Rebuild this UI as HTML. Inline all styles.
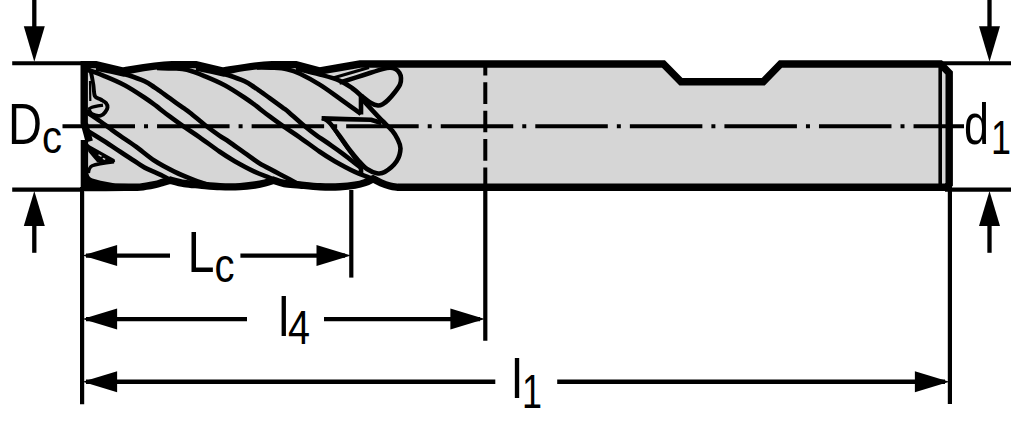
<!DOCTYPE html>
<html><head><meta charset="utf-8"><title>End mill</title>
<style>
html,body{margin:0;padding:0;background:#fff;}
body{width:1023px;height:426px;overflow:hidden;font-family:"Liberation Sans",sans-serif;}
svg{display:block;}
text{font-family:"Liberation Sans",sans-serif;fill:#000;}
</style></head><body>
<svg width="1023" height="426" viewBox="0 0 1023 426">
<rect width="1023" height="426" fill="#fff"/>
<defs><clipPath id="body"><path d="M84.5,64.6 L96,64.6 L123,71.2 C135,69.2 154,65 172,64.6 L196,64.6 L223,71.2 C235,69.2 254,65 272,64.6 L296,64.6 L320,71 C333,68.8 347,66.2 360,64 L663.4,64 L681,81.8 L763.2,81.8 L780.6,64 L940.4,64 L949.2,73 L949.2,184.3 L946.2,187.3 L398,187.3 C396.7,187.1 392.8,186.8 390.0,186.0 C387.2,185.2 383.8,184.0 381.0,182.8 C378.2,181.6 374.3,179.5 373.0,178.8 C371.7,179.4 368.0,181.5 365.0,182.6 C362.0,183.7 359.2,184.5 355.0,185.2 C350.8,185.9 345.8,186.5 340.0,186.8 C334.2,187.1 326.7,187.1 320.0,186.8 C313.3,186.5 305.9,185.6 300.0,185.0 C294.1,184.4 288.7,184.3 284.3,183.5 C279.9,182.7 275.3,180.8 273.5,180.2 C272.1,180.7 268.1,182.2 265.0,183.0 C261.9,183.8 259.2,184.4 255.0,185.0 C250.8,185.6 245.8,186.3 240.0,186.6 C234.2,186.9 226.7,186.9 220.0,186.6 C213.3,186.3 205.9,185.5 200.0,185.0 C194.1,184.5 189.2,184.3 184.3,183.5 C179.4,182.7 172.7,180.8 170.4,180.2 C169.1,180.6 165.3,181.7 162.7,182.4 C160.1,183.2 158.6,183.9 154.8,184.7 C151.0,185.5 145.0,186.7 140.0,187.1 C135.0,187.5 134.2,187.2 125.0,187.3 C115.8,187.4 91.2,187.5 84.5,187.5 L84.5,64.6 Z"/></clipPath></defs>
<path d="M84.5,64.6 L96,64.6 L123,71.2 C135,69.2 154,65 172,64.6 L196,64.6 L223,71.2 C235,69.2 254,65 272,64.6 L296,64.6 L320,71 C333,68.8 347,66.2 360,64 L663.4,64 L681,81.8 L763.2,81.8 L780.6,64 L940.4,64 L949.2,73 L949.2,184.3 L946.2,187.3 L398,187.3 C396.7,187.1 392.8,186.8 390.0,186.0 C387.2,185.2 383.8,184.0 381.0,182.8 C378.2,181.6 374.3,179.5 373.0,178.8 C371.7,179.4 368.0,181.5 365.0,182.6 C362.0,183.7 359.2,184.5 355.0,185.2 C350.8,185.9 345.8,186.5 340.0,186.8 C334.2,187.1 326.7,187.1 320.0,186.8 C313.3,186.5 305.9,185.6 300.0,185.0 C294.1,184.4 288.7,184.3 284.3,183.5 C279.9,182.7 275.3,180.8 273.5,180.2 C272.1,180.7 268.1,182.2 265.0,183.0 C261.9,183.8 259.2,184.4 255.0,185.0 C250.8,185.6 245.8,186.3 240.0,186.6 C234.2,186.9 226.7,186.9 220.0,186.6 C213.3,186.3 205.9,185.5 200.0,185.0 C194.1,184.5 189.2,184.3 184.3,183.5 C179.4,182.7 172.7,180.8 170.4,180.2 C169.1,180.6 165.3,181.7 162.7,182.4 C160.1,183.2 158.6,183.9 154.8,184.7 C151.0,185.5 145.0,186.7 140.0,187.1 C135.0,187.5 134.2,187.2 125.0,187.3 C115.8,187.4 91.2,187.5 84.5,187.5 L84.5,64.6 Z" fill="#d6d6d6"/>
<g clip-path="url(#body)" fill="none" stroke="#000" stroke-width="4.6" stroke-linejoin="round">
<path d="M84.0,128.5 C84.8,129.0 85.2,129.3 88.8,131.6 C92.4,133.8 100.3,138.6 105.6,142.0 C110.8,145.4 115.2,148.5 120.3,151.8 C125.4,155.1 131.9,159.4 136.0,162.0 C140.1,164.6 140.3,165.3 144.7,167.6 C149.1,169.9 158.3,173.7 162.5,175.8 C166.7,177.9 168.8,179.3 170.0,180.0"/>
<path d="M84.0,110.5 C84.8,111.0 86.0,111.8 88.8,113.6 C91.6,115.4 97.1,119.0 100.6,121.5 C104.1,124.0 106.7,126.1 110.0,128.5 C113.3,130.9 116.0,132.9 120.3,135.9 C124.6,138.9 130.3,142.5 136.0,146.7 C141.7,150.8 148.2,156.7 154.6,160.8 C161.0,165.0 167.6,168.3 174.3,171.6 C181.0,174.9 189.1,178.1 195.0,180.4 C200.9,182.7 207.5,184.7 210.0,185.5"/>
<path d="M57.0,68.0 C59.7,68.1 68.0,68.1 73.0,68.4 C78.0,68.7 81.7,68.5 87.0,69.8 C92.3,71.1 98.7,73.7 105.0,76.3 C111.3,78.9 118.1,81.7 124.7,85.2 C131.3,88.7 139.2,94.0 144.4,97.5 C149.7,101.0 153.1,103.6 156.2,105.9 C159.3,108.2 160.6,109.5 163.2,111.5 C165.8,113.5 168.3,115.3 171.7,117.8 C175.1,120.3 178.8,123.0 183.5,126.3 C188.2,129.6 193.7,133.1 199.7,137.3 C205.7,141.5 213.6,147.5 219.4,151.5 C225.2,155.5 228.9,157.8 234.7,161.2 C240.5,164.5 248.7,168.9 254.4,171.6 C260.1,174.3 265.9,176.1 269.2,177.5 C272.5,178.9 273.2,179.6 274.0,180.0"/>
<path d="M96.0,68.4 C98.5,68.9 106.5,70.6 111.0,71.6 C115.5,72.6 120.2,73.6 123.0,74.2 C125.8,74.8 124.1,73.8 127.7,75.0 C131.3,76.2 140.0,79.2 144.4,81.2 C148.8,83.2 151.5,85.4 154.3,87.2 C157.1,89.0 158.4,90.0 161.0,91.8 C163.6,93.6 166.0,95.6 169.7,98.2 C173.3,100.8 179.5,105.2 182.9,107.6 C186.3,110.0 186.1,109.6 190.0,112.7 C193.9,115.8 201.7,122.5 206.6,126.3 C211.5,130.1 215.6,133.0 219.4,135.6 C223.2,138.2 225.1,139.1 229.3,142.0 C233.5,144.9 239.6,149.3 244.6,152.8 C249.6,156.3 254.2,160.1 259.3,163.2 C264.4,166.3 269.9,168.9 275.0,171.6 C280.1,174.3 285.8,177.3 290.0,179.5 C294.2,181.7 298.3,184.1 300.0,185.0"/>
<path d="M157.0,68.0 C159.7,68.1 168.0,68.1 173.0,68.4 C178.0,68.7 181.7,68.5 187.0,69.8 C192.3,71.1 198.7,73.7 205.0,76.3 C211.3,78.9 218.1,81.7 224.7,85.2 C231.3,88.7 239.2,94.0 244.4,97.5 C249.7,101.0 253.1,103.6 256.2,105.9 C259.3,108.2 260.6,109.5 263.2,111.5 C265.8,113.5 268.3,115.3 271.7,117.8 C275.1,120.3 278.8,123.0 283.5,126.3 C288.2,129.6 293.7,133.1 299.7,137.3 C305.7,141.5 313.6,147.5 319.4,151.5 C325.2,155.5 328.9,157.8 334.7,161.2 C340.5,164.5 348.6,168.9 354.4,171.6 C360.1,174.3 365.9,176.1 369.2,177.5 C372.5,178.9 373.2,179.6 374.0,180.0"/>
<path d="M196.0,68.4 C198.5,68.9 206.5,70.6 211.0,71.6 C215.5,72.6 220.2,73.6 223.0,74.2 C225.8,74.8 224.1,73.8 227.7,75.0 C231.3,76.2 240.0,79.2 244.4,81.2 C248.8,83.2 251.5,85.4 254.3,87.2 C257.1,89.0 258.4,90.0 261.0,91.8 C263.6,93.6 266.1,95.6 269.7,98.2 C273.3,100.8 279.4,105.2 282.7,107.6 C286.0,110.0 285.7,109.6 289.3,112.7 C293.0,115.8 300.2,122.5 304.8,126.3 C309.3,130.1 313.2,133.0 316.8,135.6 C320.4,138.2 322.2,139.1 326.3,142.0 C330.4,144.9 337.4,149.7 341.6,152.8 C345.8,155.9 348.4,158.1 351.5,160.5 C354.6,162.9 359.0,166.3 360.5,167.5"/>
<path d="M257.0,67.4 C259.7,67.5 268.0,67.4 273.0,67.7 C278.0,68.0 282.5,68.2 287.0,69.2 C291.5,70.2 294.6,71.1 300.0,73.7 C305.4,76.3 313.1,80.5 319.7,84.6 C326.3,88.7 332.5,93.4 339.4,98.3 C346.3,103.2 357.4,111.4 361.0,114.0"/>
<path d="M296.0,68.4 C300.0,69.4 312.8,72.5 320.0,74.5 C327.2,76.5 334.1,78.3 339.4,80.6 C344.7,82.8 348.4,85.5 352.0,88.0 C355.6,90.5 359.5,94.2 361.0,95.5"/>
<path d="M361,94 L361,114.5"/>
<path d="M361,163 L361,174"/>
<path d="M339.4,82.6 C340.2,82.4 340.1,82.4 344.0,81.2 C347.9,80.0 356.6,77.2 363.0,75.2 C369.4,73.2 377.9,70.4 382.4,69.1 C386.9,67.8 387.8,67.6 390.0,67.6 C392.2,67.6 393.9,68.1 395.5,69.0 C397.1,69.9 398.6,71.5 399.5,73.0 C400.4,74.5 400.9,76.1 401.0,78.0 C401.1,79.9 401.0,82.2 400.0,84.5 C399.0,86.8 397.0,89.4 395.0,92.0 C393.0,94.6 390.0,98.0 388.0,100.0 C386.0,102.0 384.7,103.1 383.0,104.0 C381.3,104.9 380.0,105.7 378.0,105.5 C376.0,105.3 373.8,104.7 371.0,103.0 C368.2,101.3 362.7,96.8 361.0,95.5"/>
<path d="M333,77.9 L369,67.6" stroke-width="3.1"/>
<path d="M361.5,97.0 C361.8,97.6 361.6,98.2 363.5,100.5 C365.4,102.8 369.6,107.4 372.8,110.8 C376.0,114.2 379.2,117.7 382.5,121.0 C385.8,124.3 389.8,127.8 392.3,130.8 C394.8,133.8 396.1,136.1 397.5,139.0 C398.9,141.9 400.6,144.7 400.5,148.4 C400.4,152.1 399.2,157.3 396.6,161.2 C394.0,165.1 388.0,170.0 384.7,172.0 C381.4,174.0 379.8,173.7 376.8,173.2 C373.9,172.7 370.0,171.0 367.0,169.0 C364.0,167.0 361.9,164.5 359.0,161.2 C356.1,157.9 352.6,153.7 349.3,149.4 C346.0,145.1 342.7,140.0 339.4,135.6 C336.1,131.2 332.4,125.8 329.6,122.8 C326.8,119.8 323.9,118.7 322.7,117.9"/>
<path d="M321.6,118.4 L345,119.1 L371,119.8 L381.5,123"/>
<path d="M330,122.6 C340.5,139 351,154 361.5,167" stroke-width="3.4"/>
<path d="M88.0,69.0 C88.5,69.5 89.9,69.4 90.8,72.0 C91.7,74.6 92.6,80.7 93.3,84.7 C94.0,88.7 93.7,93.7 94.9,96.2 C96.1,98.7 98.9,98.4 100.7,99.5 C102.5,100.6 104.9,101.7 106.0,103.0 C107.1,104.3 107.6,106.0 107.5,107.5 C107.4,109.0 106.4,110.6 105.3,112.0 C104.2,113.4 102.8,115.3 100.7,115.7 C98.6,116.1 94.5,115.4 92.4,114.3 C90.3,113.2 89.0,110.1 88.3,109.3" stroke-width="3.9"/>
<path d="M90,81 L90.3,101" stroke-width="2.2"/>
<path d="M88.3,109.3 C88.9,109.0 90.4,107.8 92.0,107.2 C93.6,106.6 96.2,106.1 98.0,105.8 C99.8,105.5 102.2,105.3 103.0,105.2" stroke-width="3.2"/>
<path d="M87,143 L90,145.6 L114.6,159.2 L115.2,161.6 L113.5,163 L97.2,162.3 L88.3,151.8 Z" fill="#000" stroke="none"/>
<path d="M98.5,154.8 L101.5,156.4 M102.8,158.4 L105.2,159.4" stroke="#d6d6d6" stroke-width="1.3"/>
<path d="M114,161.8 C104,163 96.5,164 92.2,165.8 C89.6,167.2 88.8,169.5 88.4,173" stroke-width="3.4"/>
</g>
<path d="M62.5,126.3 L964,126.3" fill="none" stroke="#000" stroke-width="3.9" stroke-dasharray="72.5 9.03 4 9.03"/>
<path d="M84.5,64.6 L96,64.6 L123,71.2 C135,69.2 154,65 172,64.6 L196,64.6 L223,71.2 C235,69.2 254,65 272,64.6 L296,64.6 L320,71 C333,68.8 347,66.2 360,64 L663.4,64 L681,81.8 L763.2,81.8 L780.6,64 L940.4,64 L949.2,73 L949.2,184.3 L946.2,187.3 L398,187.3 C396.7,187.1 392.8,186.8 390.0,186.0 C387.2,185.2 383.8,184.0 381.0,182.8 C378.2,181.6 374.3,179.5 373.0,178.8 C371.7,179.4 368.0,181.5 365.0,182.6 C362.0,183.7 359.2,184.5 355.0,185.2 C350.8,185.9 345.8,186.5 340.0,186.8 C334.2,187.1 326.7,187.1 320.0,186.8 C313.3,186.5 305.9,185.6 300.0,185.0 C294.1,184.4 288.7,184.3 284.3,183.5 C279.9,182.7 275.3,180.8 273.5,180.2 C272.1,180.7 268.1,182.2 265.0,183.0 C261.9,183.8 259.2,184.4 255.0,185.0 C250.8,185.6 245.8,186.3 240.0,186.6 C234.2,186.9 226.7,186.9 220.0,186.6 C213.3,186.3 205.9,185.5 200.0,185.0 C194.1,184.5 189.2,184.3 184.3,183.5 C179.4,182.7 172.7,180.8 170.4,180.2 C169.1,180.6 165.3,181.7 162.7,182.4 C160.1,183.2 158.6,183.9 154.8,184.7 C151.0,185.5 145.0,186.7 140.0,187.1 C135.0,187.5 134.2,187.2 125.0,187.3 C115.8,187.4 91.2,187.5 84.5,187.5" fill="none" stroke="#000" stroke-width="7.4" stroke-linejoin="miter"/>
<path d="M84,171 L88.2,171 C88.3,175.3 89.6,177.4 92.5,178.5 L100.7,180.8 L115.4,183.6 L135,184.3 L135,190 L84,190 Z" fill="#000"/>
<path d="M84.2,61 L84.2,123 L89.3,141.5 M84.4,140 L84.4,191" fill="none" stroke="#000" stroke-width="7.4" stroke-linejoin="round"/>
<path d="M940.2,66 L940.2,186" fill="none" stroke="#000" stroke-width="3.6"/>
<path d="M12.2,63.2 L84.0,63.2" fill="none" stroke="#000" stroke-width="4.1"/>
<path d="M12.2,189.6 L84.0,189.6" fill="none" stroke="#000" stroke-width="4.1"/>
<path d="M941.0,63.2 L1011.0,63.2" fill="none" stroke="#000" stroke-width="4.1"/>
<path d="M945.0,189.6 L1011.0,189.6" fill="none" stroke="#000" stroke-width="4.1"/>
<path d="M34.3,0.0 L34.3,30.0" fill="none" stroke="#000" stroke-width="4.3"/>
<path d="M34.3,61.8 L44.8,26.2 L23.8,26.2 Z" fill="#000"/>
<path d="M34.3,222.0 L34.3,252.8" fill="none" stroke="#000" stroke-width="4.3"/>
<path d="M34.3,191.0 L23.8,226.0 L44.8,226.0 Z" fill="#000"/>
<path d="M989.5,0.0 L989.5,30.0" fill="none" stroke="#000" stroke-width="4.3"/>
<path d="M989.5,61.8 L1000.0,26.2 L979.0,26.2 Z" fill="#000"/>
<path d="M989.5,222.0 L989.5,252.8" fill="none" stroke="#000" stroke-width="4.3"/>
<path d="M989.5,191.0 L979.0,226.0 L1000.0,226.0 Z" fill="#000"/>
<path d="M82.1,187.0 L82.1,404.3" fill="none" stroke="#000" stroke-width="4.2"/>
<path d="M351.3,190.0 L351.3,277.6" fill="none" stroke="#000" stroke-width="4.2"/>
<path d="M485.3,190.0 L485.3,340.8" fill="none" stroke="#000" stroke-width="4.2"/>
<path d="M485.3,62.0 L485.3,190.0" fill="none" stroke="#000" stroke-width="4.0" stroke-dasharray="21.6 6.8" stroke-dashoffset="8.1"/>
<path d="M949.9,182.0 L949.9,404.0" fill="none" stroke="#000" stroke-width="4.2"/>
<path d="M86.0,255.6 L170.0,255.6" fill="none" stroke="#000" stroke-width="4.4"/>
<path d="M82.6,255.6 L117.1,266.1 L117.1,245.1 Z" fill="#000"/>
<path d="M240.4,255.6 L345.0,255.6" fill="none" stroke="#000" stroke-width="4.4"/>
<path d="M351.0,255.6 L316.5,245.1 L316.5,266.1 Z" fill="#000"/>
<path d="M86.0,319.1 L247.0,319.1" fill="none" stroke="#000" stroke-width="4.4"/>
<path d="M82.6,319.1 L117.1,329.6 L117.1,308.6 Z" fill="#000"/>
<path d="M324.0,319.1 L480.0,319.1" fill="none" stroke="#000" stroke-width="4.4"/>
<path d="M484.9,319.1 L450.4,308.6 L450.4,329.6 Z" fill="#000"/>
<path d="M86.0,381.7 L495.3,381.7" fill="none" stroke="#000" stroke-width="4.4"/>
<path d="M82.6,381.7 L117.1,392.2 L117.1,371.2 Z" fill="#000"/>
<path d="M557.2,381.7 L945.0,381.7" fill="none" stroke="#000" stroke-width="4.4"/>
<path d="M949.4,381.7 L914.9,371.2 L914.9,392.2 Z" fill="#000"/>
<text x="8" y="143.9" font-size="58" textLength="34" lengthAdjust="spacingAndGlyphs">D</text>
<text x="42" y="152.8" font-size="47" textLength="20" lengthAdjust="spacingAndGlyphs">c</text>
<text x="964" y="144.4" font-size="57" textLength="25" lengthAdjust="spacingAndGlyphs">d</text>
<text x="991" y="154" font-size="49" textLength="20" lengthAdjust="spacingAndGlyphs">1</text>
<text x="187.5" y="272" font-size="58" textLength="27" lengthAdjust="spacingAndGlyphs">L</text>
<text x="214.5" y="281.8" font-size="49" textLength="20" lengthAdjust="spacingAndGlyphs">c</text>
<text x="278.3" y="335.6" font-size="56" textLength="11" lengthAdjust="spacingAndGlyphs">l</text>
<text x="288" y="344.4" font-size="49" textLength="22" lengthAdjust="spacingAndGlyphs">4</text>
<text x="511.4" y="397.9" font-size="56" textLength="11" lengthAdjust="spacingAndGlyphs">l</text>
<text x="522" y="407.9" font-size="49" textLength="20" lengthAdjust="spacingAndGlyphs">1</text>
</svg>
</body></html>
